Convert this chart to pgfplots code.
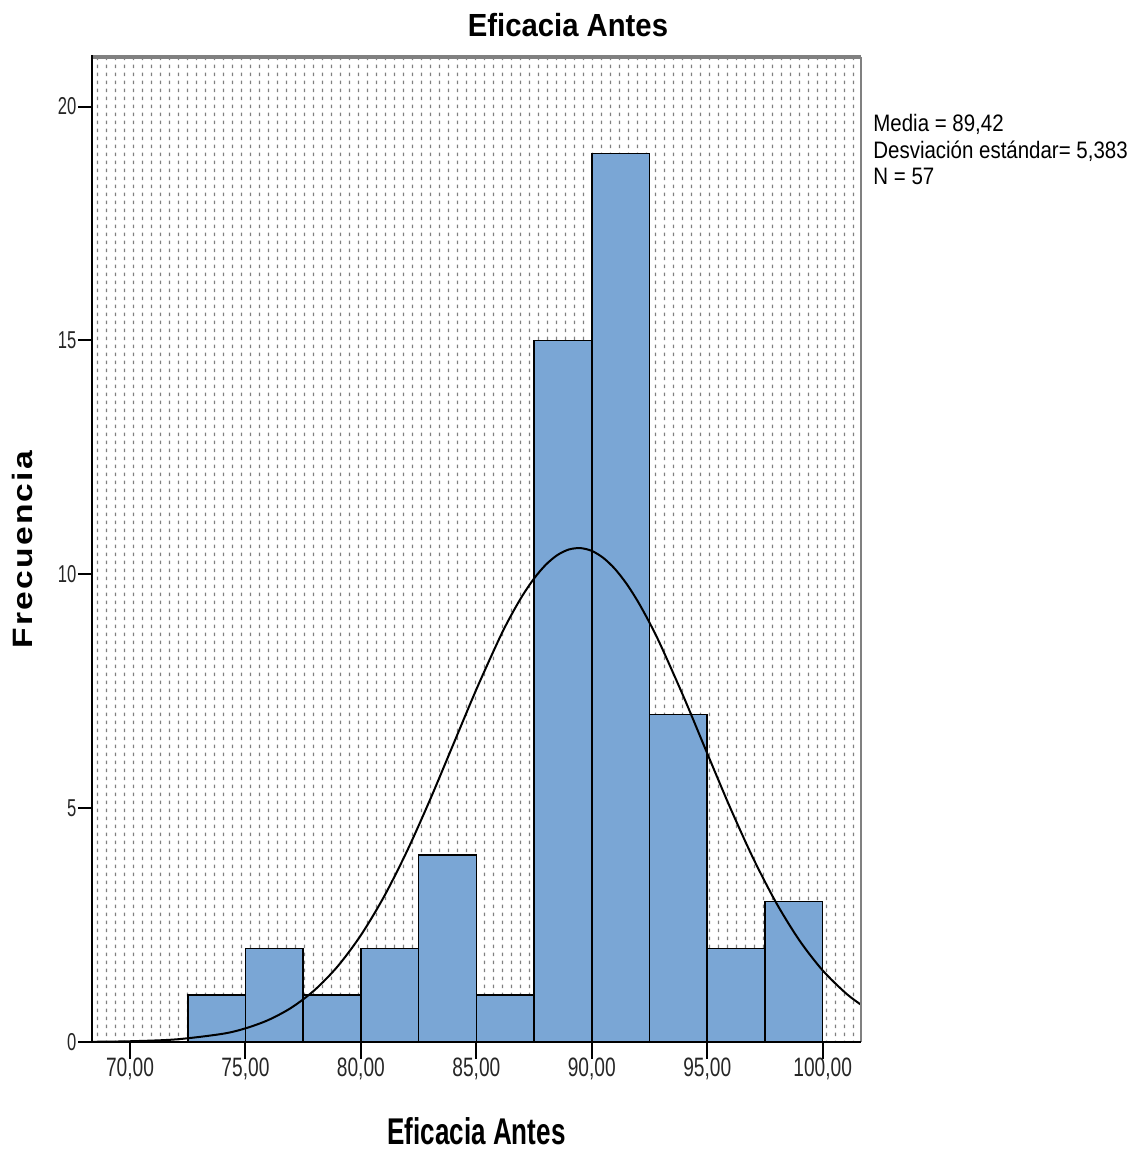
\documentclass[border=0pt]{standalone}
\usepackage{fontspec}
\setmainfont{Liberation Sans}
\newfontfamily\xtickfont{Liberation Sans}[FakeStretch=0.72]
\newfontfamily\ytickfont{Liberation Sans}[FakeStretch=0.68]
\newfontfamily\legfont{Liberation Sans}[FakeStretch=0.86]
\newfontfamily\ttlfont{Liberation Sans}[FakeStretch=0.915]
\newfontfamily\xlabfont{Liberation Sans}[FakeStretch=0.70]
\newfontfamily\ylabfont{Liberation Sans}[FakeStretch=1.2]
\usepackage{pgfplots}
\pgfplotsset{compat=1.18}
\usetikzlibrary{patterns,calc}
\definecolor{barblue}{RGB}{122,166,213}
% SPSS-style dotted chart background
\pgfdeclarepatternformonly{vdash}{\pgfpointorigin}{\pgfqpoint{4.72pt}{4pt}}{\pgfqpoint{4.72pt}{4pt}}{%
  \pgfsetlinewidth{0.65pt}%
  \pgfpathmoveto{\pgfqpoint{2.36pt}{1.0pt}}\pgfpathlineto{\pgfqpoint{2.36pt}{3.0pt}}\pgfusepath{stroke}}
\def\ls{\kern1.1pt}
\begin{document}
\begin{tikzpicture}
\begin{axis}[scale only axis, width=384.5pt, height=492.5pt,
  xmin=68.354, xmax=101.66, ymin=0, ymax=21.06,
  axis line style={draw=none},
  axis background/.style={pattern=vdash, pattern color=black!50},
  xtick={70,75,...,100},
  xticklabels={{70,00},{75,00},{80,00},{85,00},{90,00},{95,00},{100,00}},
  ytick={0,5,10,15,20}, yticklabels={0,5,10,15,20},
  tick align=outside, xtick pos=lower, ytick pos=left,
  tick style={black, line width=1pt},
  xtick style={/pgfplots/major tick length=8.3pt},
  ytick style={/pgfplots/major tick length=6.8pt},
  xticklabel style={font=\xtickfont\fontsize{13.3}{14}\selectfont, text=black!85},
  yticklabel style={font=\ytickfont\fontsize{12.2}{13}\selectfont, text=black!85}]
\addplot[ybar interval, fill=barblue, draw=black, line width=0.8pt] coordinates {
  (72.5,1) (75,2) (77.5,1) (80,2) (82.5,4) (85,1) (87.5,15) (90,19) (92.5,7) (95,2) (97.5,3) (100,3)};
\addplot[black, line width=1pt, smooth] coordinates {
  (68.35,0.0042) (70,0.0158) (72,0.0562) (74,0.1745) (75,0.292) (76,0.472) (77,0.737) (78,1.112)
  (79,1.621) (80,2.284) (81,3.107) (82,4.084) (83,5.186) (84,6.362) (85,7.538) (86,8.631)
  (86.5,9.116) (87,9.546) (87.5,9.910) (88,10.200) (88.5,10.408) (89,10.529) (89.5,10.560)
  (90,10.500) (90.5,10.350) (91,10.116) (91.5,9.801) (92,9.415) (92.5,8.966)
  (93,8.466) (94,7.354) (95,6.171) (96,5.003) (97,3.918) (98,2.965) (99,2.167) (100,1.530)
  (101,1.044) (101.66,0.797)};
\coordinate (ll) at (rel axis cs:0,0);
\coordinate (ur) at (rel axis cs:1,1);
\end{axis}
% frame
\draw[black!50, line width=1.8pt] (ll|-ur) -- (ur);
\draw[black!50, line width=1pt] (ur) -- (ur|-ll);
\draw[black, line width=1pt] ($(ll|-ur)+(0,0.9pt)$) -- (ll) -- (ur|-ll);
% titles and labels
\node[anchor=base, font=\ttlfont\bfseries\fontsize{16}{18}\selectfont] at ($(ll|-ur)+(238pt,10pt)$) {Eficacia Antes};
\node[anchor=base, font=\xlabfont\bfseries\fontsize{18.6}{20}\selectfont] at ($(ll)!0.5!(ur|-ll)+(0,-51.3pt)$) {Eficacia Antes};
\node[anchor=base, rotate=90, font=\ylabfont\bfseries\fontsize{14}{16}\selectfont] at ($(ll)!0.5!(ll|-ur)+(-29.5pt,0)$) {F\ls r\ls e\ls c\ls u\ls e\ls n\ls c\ls i\ls a};
% statistics box
\node[anchor=base west, inner sep=0pt, font=\legfont\fontsize{11.9}{13}\selectfont] at ($(ur)+(6pt,-37.5pt)$) {Media = 89,42};
\node[anchor=base west, inner sep=0pt, font=\legfont\fontsize{11.9}{13}\selectfont] at ($(ur)+(6pt,-50.75pt)$) {Desviación estándar= 5,383};
\node[anchor=base west, inner sep=0pt, font=\legfont\fontsize{11.9}{13}\selectfont] at ($(ur)+(6pt,-64pt)$) {N = 57};
\pgfresetboundingbox
\path[use as bounding box] ($(ll)+(-46pt,-54pt)$) rectangle ($(ur)+(137.5pt,28.5pt)$);
\end{tikzpicture}
\end{document}
